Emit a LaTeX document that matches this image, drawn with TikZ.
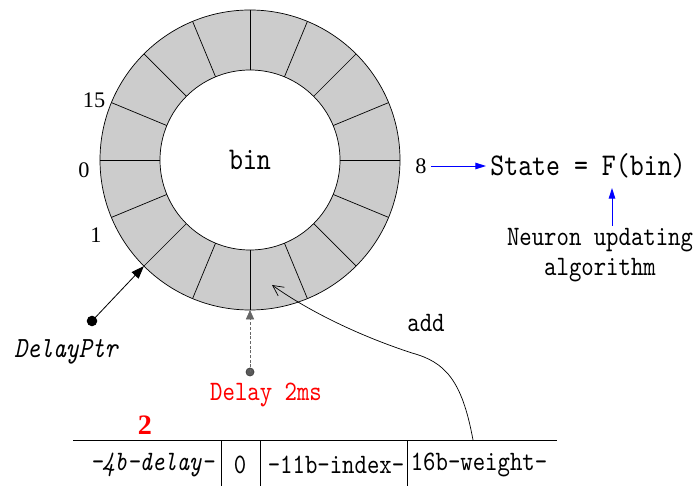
\documentclass[tikz,border=0pt]{standalone}
\usepackage{fontspec}
\setmonofont[Extension=.otf, UprightFont=*-regular, ItalicFont=*-italic, FakeStretch=0.84]{lmmono10}
\newfontfamily\numfont{Liberation Serif}
\usetikzlibrary{arrows.meta}
\definecolor{ringgray}{HTML}{CCCCCC}
\tikzset{
  num/.style={font=\numfont\fontsize{19}{19}\selectfont, inner sep=0pt},
  bigtt/.style={font=\ttfamily\fontsize{27}{30}\selectfont, inner sep=0pt},
  midtt/.style={font=\ttfamily\fontsize{24}{25.5}\selectfont, inner sep=0pt},
  bluearr/.style={blue, line width=0.8pt, -{Triangle[length=9pt,width=5.5pt]}},
  ringline/.style={line width=0.6pt},
}
\begin{document}
\begin{tikzpicture}[x=0.03cm,y=-0.03cm]
\useasboundingbox (0,0) rectangle (697,486);
% ring
\coordinate (c) at (250,160);
\fill[ringgray, even odd rule] (c) circle[radius=4.5cm] (c) circle[radius=2.7cm];
\draw[ringline] (c) circle[radius=4.5cm];
\draw[ringline] (c) circle[radius=2.7cm];
\foreach \a in {0,22.5,...,337.5}
  \draw[ringline] (c) ++(\a:2.7cm) -- ++(\a:1.8cm);
\node[bigtt] (bin) at (250,160) {bin};
% slot labels
\node[num] (l15) at (94,100) {15};
\node[num] (l0) at (84,170) {0};
\node[num] (l1) at (96,235) {1};
\node[num] (l8) at (421,166) {8};
% state
\node[bigtt] (state) at (588,166) {State = F(bin)};
\draw[bluearr, shorten <=3.5pt, shorten >=3.5pt] (l8) -- (state);
\node[midtt, align=center] (algo) at (600,255) {Neuron updating\\algorithm};
\coordinate (fa) at (612,226);
\coordinate (fb) at (612,188);
\draw[bluearr] (fa) -- (fb);
% DelayPtr
\path (c) ++(225:4.5cm) coordinate (ptrtip);
\node[circle, fill=black, inner sep=0pt, minimum size=9pt] (ptrdot) at (92,321) {};
\draw[line width=0.7pt, -{Triangle[length=11pt,width=8pt]}] (ptrdot.center) -- (ptrtip);
\node[font=\ttfamily\itshape\fontsize{25}{28}\selectfont, inner sep=0pt] (ptrlab) at (66,352) {DelayPtr};
% Delay 2ms
\path (c) ++(270:4.5cm) coordinate (btip);
\node[circle, fill=black!65, draw=black!80, inner sep=0pt, minimum size=7pt] (ddot) at (250,372) {};
\draw[black!60, dash pattern=on 2.5pt off 1.5pt, line width=0.5pt, -{Triangle[length=8pt,width=7pt,fill=black!60]}] (ddot.center) -- (btip);
\node[midtt, text=red] (dlab) at (266,395) {Delay 2ms};
% add curve
\node[midtt] (addlab) at (426,323) {add};
\coordinate (addstart) at (473,440);
\coordinate (addmid) at (412,353);
\coordinate (addend) at (272,285);
\draw[line width=0.6pt, -{Straight Barb[length=9pt,width=9pt]}]
  (addstart) .. controls (462,380) and (445,362) .. (addmid)
  .. controls (360,336) and (310,312) .. (addend);
% bottom row
\node[font=\numfont\bfseries\fontsize{24}{24}\selectfont, text=red, inner sep=0pt] (two) at (145,425) {2};
\coordinate (rowL) at (73,440);
\coordinate (rowR) at (557,440);
\draw[line width=0.7pt] (rowL) -- (rowR);
\foreach \x in {221,260,407}
  \draw[line width=0.7pt] (\x,440) -- (\x,486);
\node[font=\ttfamily\itshape\fontsize{24}{26}\selectfont, inner sep=0pt] (f1) at (152,465) {-4b-delay-};
\node[midtt] (f2) at (240,465) {0};
\node[midtt] (f3) at (336,465) {-11b-index-};
\node[midtt] (f4) at (479,465) {16b-weight-};
\end{tikzpicture}
\end{document}
